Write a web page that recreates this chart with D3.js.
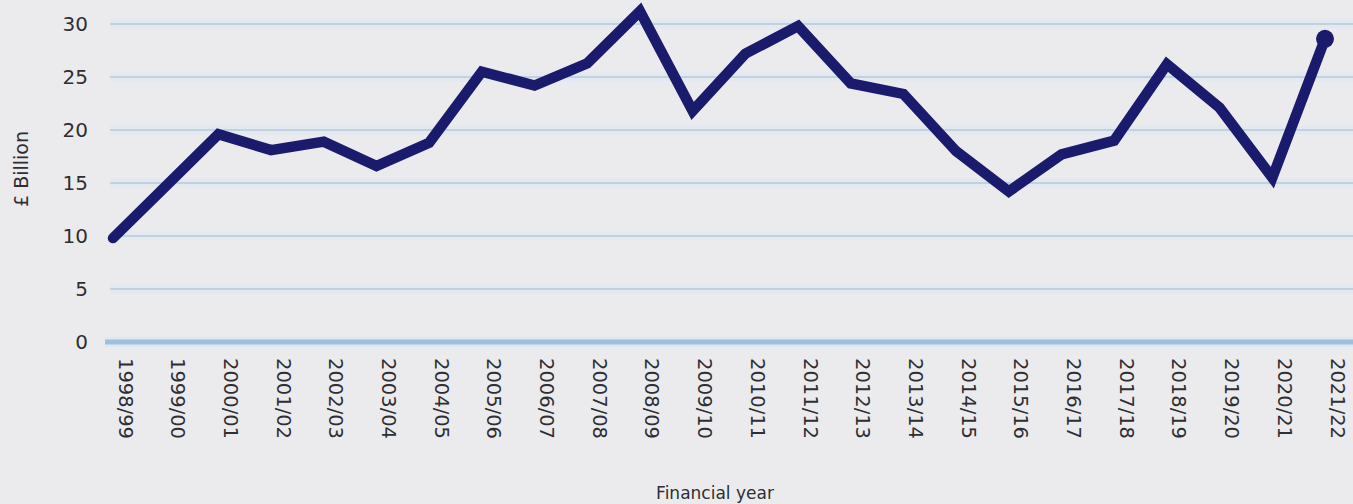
<!DOCTYPE html>
<html>
<head>
<meta charset="utf-8">
<script src="https://cdn.jsdelivr.net/npm/d3@7"></script>
<style>
  html, body { margin: 0; padding: 0; background: #ebebee; }
  svg { display: block; }
  text { font-family: "DejaVu Sans", sans-serif; fill: #2e2e33; }
</style>
</head>
<body>
<svg id="chart" width="1353" height="504"></svg>
<script>
// Financial years on the x axis
const years = [
  "1998/99", "1999/00", "2000/01", "2001/02", "2002/03", "2003/04",
  "2004/05", "2005/06", "2006/07", "2007/08", "2008/09", "2009/10",
  "2010/11", "2011/12", "2012/13", "2013/14", "2014/15", "2015/16",
  "2016/17", "2017/18", "2018/19", "2019/20", "2020/21", "2021/22"
];
// Amount per year, £ billion
const values = [
  9.8, 14.7, 19.6, 18.1, 18.9, 16.6,
  18.8, 25.5, 24.2, 26.3, 31.2, 21.8,
  27.2, 29.8, 24.4, 23.4, 18.0, 14.2,
  17.7, 19.0, 26.2, 22.1, 15.5, 28.6
];
const yTicks = [0, 5, 10, 15, 20, 25, 30];

const W = 1353, H = 504;
const svg = d3.select("#chart");

const x = d3.scalePoint().domain(years).range([113, 1325]);
const y = d3.scaleLinear().domain([0, 30]).range([342, 24]);

const gridLeft = 110, gridRight = W;

// soft halo behind each grid line
svg.append("g").selectAll("line")
  .data(yTicks.filter(d => d > 0))
  .join("line")
  .attr("x1", gridLeft).attr("x2", gridRight)
  .attr("y1", d => y(d)).attr("y2", d => y(d))
  .attr("stroke", "#e2e9f1").attr("stroke-width", 9);

// grid lines
svg.append("g").selectAll("line")
  .data(yTicks.filter(d => d > 0))
  .join("line")
  .attr("x1", gridLeft).attr("x2", gridRight)
  .attr("y1", d => y(d)).attr("y2", d => y(d))
  .attr("stroke", "#b9c9d6").attr("stroke-width", 1.6);

// baseline at zero
svg.append("line")
  .attr("x1", 105).attr("x2", gridRight)
  .attr("y1", y(0)).attr("y2", y(0))
  .attr("stroke", "#dde8f2").attr("stroke-width", 10);
svg.append("line")
  .attr("x1", 105).attr("x2", gridRight)
  .attr("y1", y(0)).attr("y2", y(0))
  .attr("stroke", "#9fc0dc").attr("stroke-width", 5);

// y axis tick labels
const yAxis = d3.axisLeft(y).tickValues(yTicks).tickSize(0).tickPadding(0);
const gy = svg.append("g").attr("transform", "translate(88,0)").call(yAxis);
gy.select(".domain").remove();
gy.selectAll("text")
  .attr("font-family", "DejaVu Sans, sans-serif")
  .attr("font-size", 20)
  .attr("fill", "#2e2e33");

// x axis labels, rotated to read downward
const xAxis = d3.axisBottom(x).tickSize(0).tickPadding(0);
const gx = svg.append("g").attr("transform", "translate(0,358)").call(xAxis);
gx.select(".domain").remove();
gx.selectAll("text")
  .attr("font-family", "DejaVu Sans, sans-serif")
  .attr("font-size", 19.5)
  .attr("fill", "#2e2e33")
  .attr("text-anchor", "start")
  .attr("dy", null)
  .attr("y", -5)
  .attr("x", 0)
  .attr("transform", "rotate(90)");

// axis titles
svg.append("text")
  .attr("transform", `translate(28,169) rotate(-90)`)
  .attr("text-anchor", "middle")
  .attr("font-size", 19)
  .text("£ Billion");

svg.append("text")
  .attr("x", 715).attr("y", 499)
  .attr("text-anchor", "middle")
  .attr("font-size", 17)
  .text("Financial year");

// the series line
const line = d3.line()
  .x((d, i) => x(years[i]))
  .y(d => y(d));

svg.append("path")
  .datum(values)
  .attr("d", line)
  .attr("fill", "none")
  .attr("stroke", "#1b1b6d")
  .attr("stroke-width", 10.5)
  .attr("stroke-linejoin", "miter")
  .attr("stroke-linecap", "round");

// end-point marker on the latest year
const last = values.length - 1;
svg.append("circle")
  .attr("cx", x(years[last]))
  .attr("cy", y(values[last]))
  .attr("r", 9)
  .attr("fill", "#1b1b6d");
</script>
</body>
</html>
